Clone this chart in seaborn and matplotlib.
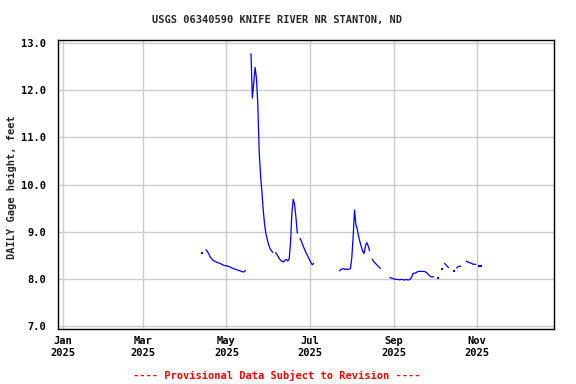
import numpy as np
import pandas as pd
import matplotlib
matplotlib.use("Agg")
import matplotlib.pyplot as plt
import seaborn as sns

N = np.nan

# daily gage height (feet), one list per month, starting 2025-04-13
apr = [8.54, N, N, 8.62, 8.58, 8.53, 8.47, 8.43, 8.40, 8.38, 8.37, 8.35, 8.34, 8.33,
       8.32, 8.30, 8.29, 8.28]
may = [8.28, 8.27, 8.26, 8.25, 8.23, 8.22, 8.21, 8.20, 8.19, 8.18, 8.17, 8.16, 8.15, 8.15,
       8.18, N, N, N, 12.77, 11.83, 12.15, 12.48, 12.25, 11.70, 10.70, 10.20, 9.85, 9.45,
       9.15, 8.95, 8.83]
jun = [8.72, 8.64, 8.60, 8.56, N, 8.56, 8.52, 8.47, 8.42, 8.39, 8.37, 8.36, 8.40, 8.41,
       8.38, 8.42, 8.75, 9.40, 9.69, 9.58, 9.30, 8.97, N, 8.86, 8.80, 8.72, 8.65, 8.58,
       8.52, 8.46]
jul = [8.40, 8.35, 8.30, 8.33] + [N] * 18 + [8.17, 8.20, 8.21, 8.22, 8.20, 8.21, 8.20,
                                             8.21, 8.22]
aug = [8.45, 8.90, 9.46, 9.15, 9.05, 8.90, 8.78, 8.68, 8.58, 8.54, 8.70, 8.77, 8.70, 8.60,
       N, 8.42, 8.37, 8.34, 8.31, 8.28, 8.25, 8.22, N, N, N, N, N, N, 8.03, 8.02, 8.01]
sep = [8.00, 7.99, 7.99, 7.99, 7.98, 7.99, 7.99, 7.98, 7.98, 7.99, 7.98, 7.98, 8.00, 8.04,
       8.12, 8.12, 8.13, 8.15, 8.16, 8.16, 8.16, 8.16, 8.16, 8.15, 8.13, 8.10, 8.07, 8.05,
       8.04, 8.05]
oct_ = [N, N, 8.03, N, N, 8.22, N, 8.33, 8.30, 8.27, 8.24, N, N, N, 8.17, N, 8.23, 8.26,
        8.27, 8.27, N, N, N, 8.38, 8.36, 8.35, 8.34, 8.33, 8.31, 8.31, 8.31]
nov = [N, 8.27, N, 8.27]

first_day = "2025-04-13"
gage_ft = apr + may + jun + jul + aug + sep + oct_ + nov
dates = pd.date_range(first_day, periods=len(gage_ft), freq="D")

tick_dates = ["2025-01-01", "2025-03-01", "2025-05-01", "2025-07-01", "2025-09-01", "2025-11-01"]
tick_labels = ["Jan\n2025", "Mar\n2025", "May\n2025", "Jul\n2025", "Sep\n2025", "Nov\n2025"]
y_ticks = [7.0, 8.0, 9.0, 10.0, 11.0, 12.0, 13.0]

df = pd.DataFrame({"date": dates, "stage": gage_ft})
gap = df["stage"].isna()
df["seg"] = gap.cumsum()
df = df[~gap]
seg_size = df.groupby("seg")["stage"].transform("size")
lines = df[seg_size > 1]
dots = df[seg_size == 1]

sns.set_style("white")
plt.rcParams["font.family"] = ["DejaVu Sans Mono"]
plt.rcParams["font.weight"] = "bold"

fig = plt.figure(figsize=(5.76, 3.84), dpi=100)
ax = fig.add_axes([58 / 576, 1 - 329 / 384, (554 - 58) / 576, (329 - 40) / 384])

sns.lineplot(data=lines, x="date", y="stage", units="seg", estimator=None,
             color="#0000ff", lw=0.9, ax=ax)
sns.scatterplot(data=dots, x="date", y="stage", color="#0000ff", marker="s",
                s=2, linewidth=0, ax=ax)

ax.set_xlim(pd.Timestamp("2024-12-28 08:00"), pd.Timestamp("2025-12-27 10:00"))
ax.set_ylim(6.94, 13.06)
ax.set_xticks(pd.to_datetime(tick_dates))
ax.set_xticklabels(tick_labels)
ax.set_yticks(y_ticks)
ax.set_yticklabels([f"{v:.1f}" for v in y_ticks])
ax.tick_params(length=0, labelsize=7.5, colors="black")
ax.tick_params(axis="y", pad=8.5)
ax.tick_params(axis="x", pad=5)
ax.grid(True, color="#cccccc", lw=1)
ax.set_axisbelow(True)
for s in ax.spines.values():
    s.set_color("black")
    s.set_linewidth(1)
ax.set_xlabel("")
ax.set_ylabel("")

fig.text(277 / 576, 1 - 20 / 384, "USGS 06340590 KNIFE RIVER NR STANTON, ND",
         ha="center", va="center", fontsize=7.5, fontweight="bold")
fig.text(12 / 576, 1 - 187 / 384, "DAILY Gage height, feet", rotation=90,
         ha="center", va="center", fontsize=7.5, fontweight="bold")
fig.text(277 / 576, 1 - 375 / 384, "---- Provisional Data Subject to Revision ----",
         ha="center", va="center", fontsize=7.5, fontweight="bold", color="#ff0000")

fig.savefig("out.png", dpi=100)
